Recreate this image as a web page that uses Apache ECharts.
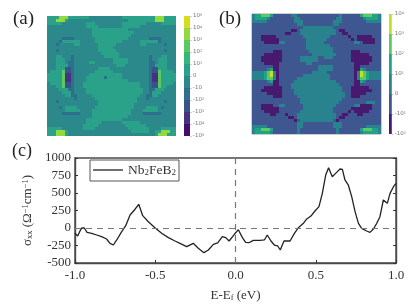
<!DOCTYPE html>
<html><head><meta charset="utf-8">
<style>html,body{margin:0;padding:0;background:#fff}#c{width:409px;height:306px}</style>
<script src="https://cdn.jsdelivr.net/npm/echarts@6/dist/echarts.min.js"></script>
</head><body><div id="c"></div>
<script>
const mapA = [
"gggglllggggggg...........ggggggggggglllgggg",
"ggglllg....................ggggggggglllgggg",
"ggggg........ggg.........gggggggg.....ggggg",
".............gggg........gggggg............",
"...............gggggggggggg................",
"...............gggggggggggggg..............",
"...............ggggggggggggg...............",
".....bbbb.......ggggggggggg.......bbbb.....",
"....bgggggg.....ggggggggg......ggggggb.....",
"...b.....gg......gggggg........gg......b...",
".................ggggg.....................",
"...b.............gggggg................b...",
"..................gggggg...................",
"...gg...b..........ggggg..........b...gg...",
"...ggg..b.............ggggg.......b..ggg...",
"...ggg.bb.....gg......ggggg.......bb.ggg...",
"...ggggbb..............ggg........bbgggg...",
"...gggiib........gggg.............biiggg...",
".ggggmiib.......gggggg............biimgggg.",
"gggggmppb.....ggggggggggg.........bppmggggg",
"gggggmppb....ggggggbggggg.........bppmggggg",
"gggggmppb....gggggggggggggg.......bppmggggg",
".ggggmiib...ggggggggggggggggggg...biimgggg.",
"...ggmiib...ggggggggggggggggggg...biimgg...",
"....gggbb....ggggggggggggggggggg..bbggg....",
".....gggb....ggggggggggggggggggg..bggg.....",
"......ggbb.....gggggggggggggggg..bbgg......",
".........b......gggggggggggggg...b.........",
"...b.............ggggggggggggg.........b...",
".................gggggggggggg..............",
"....b.gggg......ggggggggggggg....gggg.b....",
"......ggggg....ggggggggggggg....ggggg......",
".....bbbbbb....ggggggggggggg....bbbbbb.....",
"...............gggggggggggg................",
".............gggggggggggg..................",
".............ggggg.......gggggg............",
"............ggggg.........ggggggg..........",
"ggggg.......gggg...........ggggggg....ggggg",
"ggglllg.....................gggggg..gglllgg",
"ggglllg.............................glllggg"
];
const mapB = [
"tgglllg......tt..............t......glllggt",
"tggggt........tt............tt.......tggggt",
"ttttt.........ttt..........ttt........ttttt",
"...............tt..........tt..............",
".................tttttttttt................",
".............pp.tttttttttttt.pp............",
"...........pp...tttttttttttt..pp...........",
"...ppppp.........ttttttttt......p..ppppp...",
"...pppppp.........ttttttt........p.pppppp..",
"....ppppptt.......tttttt..........tt.pppp..",
"..................tttttttt.................",
"..................ttttttttt................",
".......ppp.........tttttttt......ppp.......",
"....pppppp..........tttttttt.....pppppp....",
"...ppppppp......tttttt..ttt......ppppppp...",
"...ppppppp......tttttt...........ppppppp...",
"....ppppp.........tt..............ppppp....",
".......pp.............ttttt.......pp.......",
".....tgpp.............ttttt.......ppgt.....",
"ttttglytp...........ttttt.........ptylgtttt",
"ttttglytp........ttttttttt........ptylgtttt",
"ttttglltp......ttttttttttt........ptllgtttt",
".....tgpp.....tttttttttttttt......ppgt.....",
".......pp....tttttttttttttttt.....pp.......",
"....pppppp...ttttttttttttttttt...pppppp....",
"...ppppppp....tttttttttttttttt...ppppppp...",
".....ppppp....ttttttttttttttttt..ppppp.....",
".......ppp.....tttttttttttttttt..ppp.......",
"................tttttttttttttt.............",
"................ttttttttttttt.........ttt..",
"...pppp..tt......ttttttttttt......ttpppp...",
"...pppppp........tttttttttt......ppppppp...",
"....ppppp.......ttttttttttt.....p.ppppp....",
"......pp...p...ttttttttttttt..pp...pp......",
"............pp.ttttttttttttt.pp............",
"..............p.ttttttttttt.p..............",
"...............tt..........ttt.............",
"ttttt..........tt..........ttt........ttttt",
"tgglllg........t............t.......glllggt",
"tgggggt........t............t.......tgggggt"
];
const levelsA = {p:1,i:2,b:3,'.':4,g:5,m:7,l:8,y:9};
const levelsB = {p:0,'.':1,t:2,g:3,l:4,y:5};
const coloursA = ['#440f6c','#46337e','#3a528b','#2f6f8e','#2b898c','#2aa289','#35b779','#5cc863','#93d741','#d8dc1f'];
const coloursB = ['#471a70','#3e5790','#28838e','#20a486','#5ec962','#c8de20'];
const barTicksA = ['-10^5','-10^4','-10^3','-10^2','-10','0','10^1','10^2','10^3','10^4','10^5'];
const barTicksB = ['-10^2','-10^1','0','10^1','10^2','10^3','10^4'];
const energy = [-1,-.983,-.971,-.958,-.942,-.925,-.896,-.865,-.834,-.803,-.782,-.761,-.74,-.709,-.684,-.657,-.63,-.603,-.578,-.543,-.502,-.46,-.418,-.377,-.346,-.304,-.263,-.232,-.197,-.169,-.138,-.111,-.082,-.061,-.04,-.007,.018,.043,.063,.084,.111,.153,.18,.198,.221,.242,.263,.279,.302,.34,.367,.392,.423,.444,.47,.495,.52,.541,.562,.58,.603,.63,.651,.666,.682,.703,.724,.745,.766,.786,.817,.838,.859,.88,.9,.921,.946,.963,.984,1];
const sigma = [-76,-114,-52,0,0,-62,-76,-100,-124,-157,-219,-243,-171,-52,33,186,257,338,176,90,5,-76,-138,-186,-219,-267,-219,-290,-352,-314,-233,-214,-124,-138,-186,-90,-24,-138,-205,-210,-176,-176,-171,-100,-186,-243,-257,-314,-186,-186,-76,5,67,129,171,243,305,495,757,862,733,795,843,838,686,614,448,233,67,-5,-43,-62,-14,67,162,400,352,495,590,638];

const cells = (rows, lv) => { const out=[]; rows.forEach((r,y)=>{ for(let x=0;x<r.length;x++) out.push([x,y,lv[r[x]]]); }); return out; };
const idx = n => Array.from({length:n},(_,i)=>String(i));
const barCells = cols => cols.map((_,i)=>[0,cols.length-1-i,i]);
const pieces = cols => cols.map((c,i)=>({value:i,color:c}));
const hideX = (gi,n)=>({type:'category',gridIndex:gi,data:idx(n),show:false});
const hideY = (gi,n)=>({type:'category',gridIndex:gi,data:idx(n),inverse:true,show:false});
const serif = '"Liberation Serif","Times New Roman",serif';
const barLabelAxis = (gi,ticks)=>({type:'value',gridIndex:gi,position:'right',min:0,max:ticks.length-1,interval:1,
  axisLine:{show:false},splitLine:{show:false},
  axisTick:{show:true,length:1.5,lineStyle:{color:'#999',width:.6}},
  axisLabel:{show:true,margin:3,color:'#777',fontSize:5.5,fontFamily:'"DejaVu Sans"',showMinLabel:true,showMaxLabel:true,
    formatter:v=>{const t=ticks[v]; const p=t.split('^'); return p.length>1?p[0]+'{s|'+p[1]+'}':t;},
    rich:{s:{fontSize:3.5,verticalAlign:'top',color:'#777',lineHeight:5}}}});
const heat = (xi,yi,d)=>({type:'custom',xAxisIndex:xi,yAxisIndex:yi,data:d,coordinateSystem:'cartesian2d',silent:true,
  encode:{x:0,y:1},
  renderItem:(p,api)=>{
    const c=api.coord([api.value(0),api.value(1)]), s=api.size([1,1]);
    return {type:'rect',shape:{x:c[0]-s[0]/2,y:c[1]-s[1]/2,width:s[0],height:s[1]},style:{fill:api.visual('color')}};
  }});

const chart = echarts.init(document.getElementById('c'),null,{renderer:'canvas'});
chart.setOption({
  animation:false, backgroundColor:'#fff',
  grid:[
    {left:47,top:16,width:129,height:120},
    {left:184,top:16,width:6,height:120},
    {left:252,top:14,width:129,height:120,show:true,borderColor:'#9a9a9a',borderWidth:1,backgroundColor:'transparent'},
    {left:389,top:14,width:6,height:120},
    {left:75,top:158,width:321,height:105,show:true,borderColor:'#4a4a4a',borderWidth:1.4,backgroundColor:'transparent'}
  ],
  xAxis:[hideX(0,43),hideX(1,1),hideX(2,43),hideX(3,1),
    {type:'value',gridIndex:4,min:-1,max:1,interval:.5,name:'E-E{s|f} (eV)',nameLocation:'middle',nameGap:26,
     nameTextStyle:{fontFamily:serif,fontSize:13,color:'#333',rich:{s:{fontSize:8.5,verticalAlign:'bottom',fontFamily:serif,color:'#333',lineHeight:12}}},
     axisLine:{onZero:false,lineStyle:{color:'#4a4a4a',width:1.4}},axisTick:{inside:true,length:3,lineStyle:{color:'#333',width:1}},
     splitLine:{show:false},
     axisLabel:{margin:6,fontFamily:serif,fontSize:13,color:'#333',showMinLabel:true,showMaxLabel:true,formatter:v=>v.toFixed(1)}}
  ],
  yAxis:[hideY(0,40),hideY(1,coloursA.length),hideY(2,40),hideY(3,coloursB.length),
    barLabelAxis(1,barTicksA),barLabelAxis(3,barTicksB),
    {type:'value',gridIndex:4,min:-500,max:1000,interval:250,
     name:'σ{s|xx} (Ω{t|−1}cm{t|−1})',nameLocation:'middle',nameGap:39,nameRotate:90,
     nameTextStyle:{fontFamily:serif,fontSize:13,color:'#333',
       rich:{s:{fontSize:8.5,verticalAlign:'bottom',fontFamily:serif,color:'#333',lineHeight:12},t:{fontSize:8.5,verticalAlign:'top',fontFamily:serif,color:'#333',lineHeight:12}}},
     axisLine:{onZero:false,lineStyle:{color:'#4a4a4a',width:1.4}},axisTick:{inside:true,length:3,lineStyle:{color:'#333',width:1}},
     splitLine:{show:false},
     axisLabel:{margin:4,fontFamily:serif,fontSize:13,color:'#333',showMinLabel:true,showMaxLabel:true,formatter:v=>String(v)}},
    {type:'value',gridIndex:4,position:'right',min:-500,max:1000,interval:250,
     axisLine:{show:true,onZero:false,lineStyle:{color:'#4a4a4a',width:1.4}},axisTick:{show:true,inside:true,length:3,lineStyle:{color:'#333',width:1}},
     axisLabel:{show:false},splitLine:{show:false}}
  ],
  visualMap:[
    {type:'piecewise',show:false,seriesIndex:[0,1],dimension:2,pieces:pieces(coloursA)},
    {type:'piecewise',show:false,seriesIndex:[2,3],dimension:2,pieces:pieces(coloursB)}
  ],
  legend:{show:true,data:[{name:'Nb2FeB2',icon:'rect'}],left:90,top:160,itemWidth:30,itemHeight:1.3,itemGap:0,padding:[3,3,4,3],
    backgroundColor:'#fff',borderColor:'#555',borderWidth:1,borderRadius:0,
    formatter:()=>'Nb{s|2}FeB{s|2}',
    textStyle:{fontFamily:serif,fontSize:13.5,color:'#333',rich:{s:{fontSize:9,verticalAlign:'bottom',fontFamily:serif,color:'#333',lineHeight:14}}}},
  series:[
    heat(0,0,cells(mapA,levelsA)),
    heat(1,1,barCells(coloursA)),
    heat(2,2,cells(mapB,levelsB)),
    heat(3,3,barCells(coloursB)),
    {type:'line',name:'Nb2FeB2',xAxisIndex:4,yAxisIndex:6,data:energy.map((e,i)=>[e,sigma[i]]),showSymbol:false,symbol:'none',
     lineStyle:{color:'#222',width:1.3},itemStyle:{color:'#222'},
     markLine:{silent:true,symbol:'none',label:{show:false},lineStyle:{color:'#777',type:[6,5],width:1.2},data:[{xAxis:0},{yAxis:0}]}}
  ],
  graphic:[
    {type:'text',left:13,top:10,style:{text:'(a)',font:'19px '+serif,fill:'#222'}},
    {type:'text',left:219,top:10,style:{text:'(b)',font:'19px '+serif,fill:'#222'}},
    {type:'text',left:12,top:142,style:{text:'(c)',font:'18px '+serif,fill:'#222'}}
  ]
});
</script></body></html>
